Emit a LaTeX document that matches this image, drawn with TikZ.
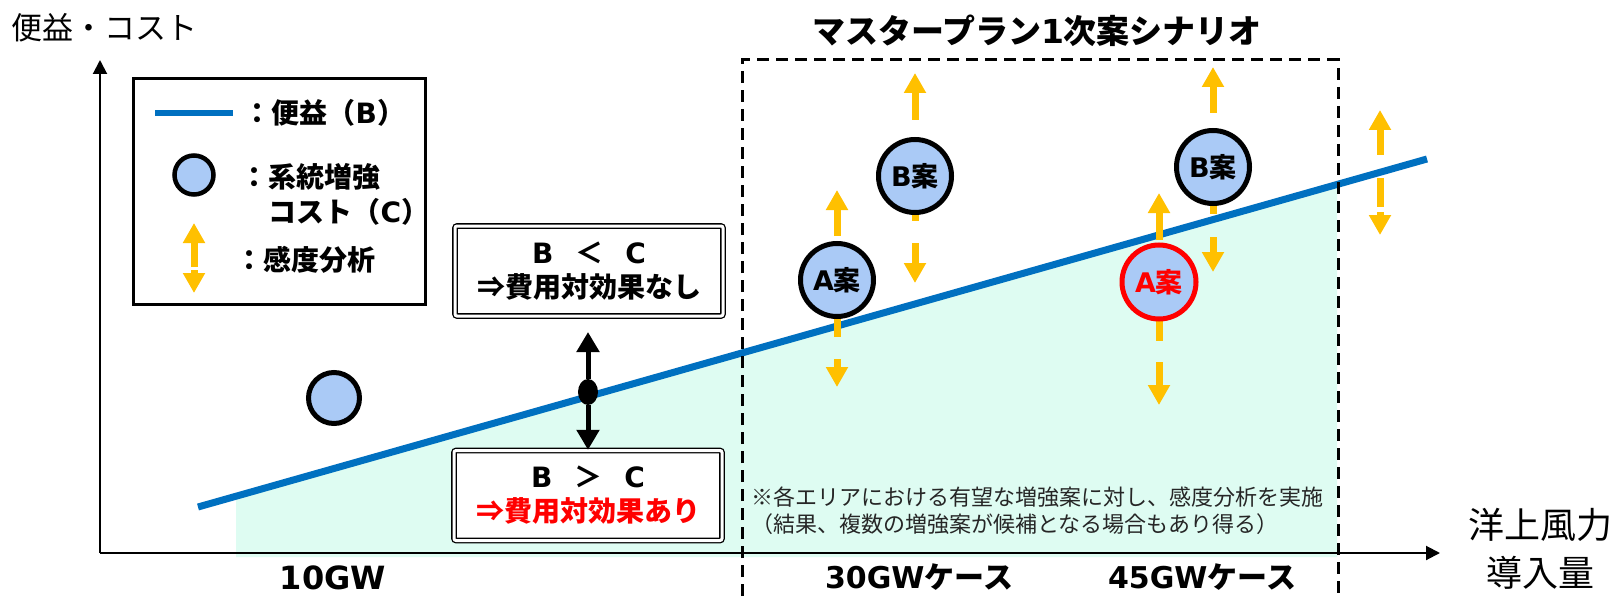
\documentclass[tikz,border=0pt]{standalone}
\usepackage{fontspec}
\setmainfont{Noto Sans CJK JP}
\newfontfamily\latfont{DejaVu Sans}
\newcommand\lat[1]{{\latfont #1}}
\usetikzlibrary{arrows.meta,shapes.geometric,calc}
\definecolor{sensy}{RGB}{255,192,0}
\definecolor{bline}{RGB}{0,112,192}
\definecolor{cfill}{RGB}{170,202,246}
\definecolor{mint}{RGB}{222,252,242}
\begin{document}
\begin{tikzpicture}[x=1pt,y=-1pt,
  cost/.style={circle, draw=black, line width=5pt, fill=cfill, minimum size=73pt, inner sep=0pt,
    font=\bfseries\fontsize{27}{27}\selectfont},
  sens/.style={draw=sensy, line width=7pt, -{Triangle[width=21pt,length=20pt]}},
  senslin/.style={draw=sensy, line width=7pt},
  verdict/.style={draw=black, double=white, double distance=3pt, line width=1.3pt, rounded corners=2pt,
    minimum width=268pt, minimum height=90pt, align=center, inner sep=0pt, fill=white,
    font=\bfseries\fontsize{28}{34}\selectfont},
  ax/.style={draw=black, line width=2pt, -{Triangle[width=14pt,length=14pt]}},
  blk/.style={draw=black, line width=5pt, -{Triangle[width=22pt,length=20pt]}},
  legtxt/.style={anchor=west, inner sep=0pt, font=\bfseries\fontsize{28}{28}\selectfont},
  caselbl/.style={inner sep=0pt, font=\bfseries\fontsize{30}{30}\selectfont}
]
\useasboundingbox[fill=white] (0,0) rectangle (1623,599);

% benefit area
\fill[mint] (236,496.2) -- (1337,184.4) -- (1337,557) -- (236,557) -- cycle;

% axes
\coordinate (O) at (100,553);
\coordinate (Ytip) at (100,60);
\coordinate (Xtip) at (1440,553);
\draw[ax] (O) -- (Ytip);
\draw[ax] (O) -- (Xtip);

% benefit line
\coordinate (Bs) at (198,507);
\coordinate (Be) at (1427,159);
\draw[bline, line width=7pt] (Bs) -- (Be);

% scenario frame
\draw[black, line width=3pt, dash pattern=on 12pt off 7pt] (742,615) -- (742,60) -- (1338,60) -- (1338,615);

% legend
\node[draw=black, line width=3pt, minimum width=292pt, minimum height=226pt, inner sep=0pt] (legend) at (279.5,191.5) {};
\coordinate (legL1) at (155,113);
\coordinate (legL2) at (233,113);
\draw[bline, line width=6pt] (legL1) -- (legL2);
\node[legtxt] (legB) at (243.5,113) {：便益（\lat{B}）};
\node[circle, draw=black, line width=4.5pt, fill=cfill, minimum size=39pt, inner sep=0pt] (legC) at (194,175) {};
\node[legtxt] (legC1) at (240.5,177) {：系統増強};
\node[legtxt] (legC2) at (268.5,212) {コスト（\lat{C}）};
\coordinate (legS) at (194,267);
\coordinate (legSu) at (194,223);
\coordinate (legSd0) at (194,270);
\coordinate (legSd) at (194,293);
\draw[sens] (legS) -- (legSu);
\draw[sens] (legSd0) -- (legSd);
\node[legtxt] (legS1) at (235.5,260) {：感度分析};

% sensitivity arrows (behind circles)
\coordinate (pA30) at (837,280);
\coordinate (pB30) at (915,176);
\coordinate (pA45) at (1159,282);
\coordinate (pB45) at (1213,167);
\draw[senslin] (pA30) -- ++(0,57);
\draw[sens] (837,236) -- (837,190);
\draw[sens] (837,359) -- (837,387);
\draw[senslin] (pB30) -- ++(0,45);
\draw[sens] (915,120) -- (915,73);
\draw[sens] (915,243) -- (915,283);
\draw[senslin] (pA45) -- ++(0,59);
\draw[sens] (1159,240) -- (1159,193);
\draw[sens] (1159,362) -- (1159,405);
\draw[senslin] (pB45) -- ++(0,47);
\draw[sens] (1213,113) -- (1213,67);
\draw[sens] (1213,237) -- (1213,272);
% sensitivity arrow right of frame
\draw[sens] (1380,155) -- (1380,110);
\draw[senslin] (1380,178) -- (1380,207);
\draw[sens] (1380,212) -- (1380,235);

% cost circles
\node[cost, minimum size=51pt] (c10) at (334,398) {};
\node[cost] (A30) at (pA30) {\lat{A}案};
\node[cost] (B30) at (pB30) {\lat{B}案};
\node[cost, draw=red, text=red, minimum size=74pt] (A45) at (pA45) {\lat{A}案};
\node[cost] (B45) at (pB45) {\lat{B}案};

% B vs C boxes
\node[verdict] (bad) at (589,271) {\lat{B}\hspace{22pt}＜\hspace{22pt}\lat{C}\\⇒費用対効果なし};
\node[verdict] (good) at (588,495.5) {\lat{B}\hspace{22pt}＞\hspace{22pt}\lat{C}\\\textcolor{red}{⇒費用対効果あり}};
\node[ellipse, fill=black, minimum width=20pt, minimum height=26pt, inner sep=0pt] (dot) at (588,392) {};
\coordinate (upTip) at (588,332);
\draw[blk] (dot) -- (upTip);
\draw[blk] (dot) -- (good.north);

% texts
\node[anchor=west, inner sep=0pt, font=\fontsize{31}{31}\selectfont] (ylab) at (11,28) {便益・コスト};
\node[align=center, inner sep=0pt, font=\fontsize{36}{48}\selectfont] (xlab) at (1540,549) {洋上風力\\導入量};
\node[inner sep=0pt, font=\bfseries\fontsize{33}{33}\selectfont] (title) at (1037,31) {マスタープラン\lat{1}次案シナリオ};
\node[caselbl, font=\bfseries\fontsize{32}{32}\selectfont] (l10) at (333,578) {\lat{10GW}};
\node[caselbl] (l30) at (919,577) {\lat{30GW}ケース};
\node[caselbl] (l45) at (1202,577) {\lat{45GW}ケース};
\node[anchor=north west, align=left, inner sep=0pt, text=black!85, font=\fontsize{22}{27}\selectfont] (note) at (751,487) {※各エリアにおける有望な増強案に対し、感度分析を実施\\（結果、複数の増強案が候補となる場合もあり得る）};
\end{tikzpicture}
\end{document}
